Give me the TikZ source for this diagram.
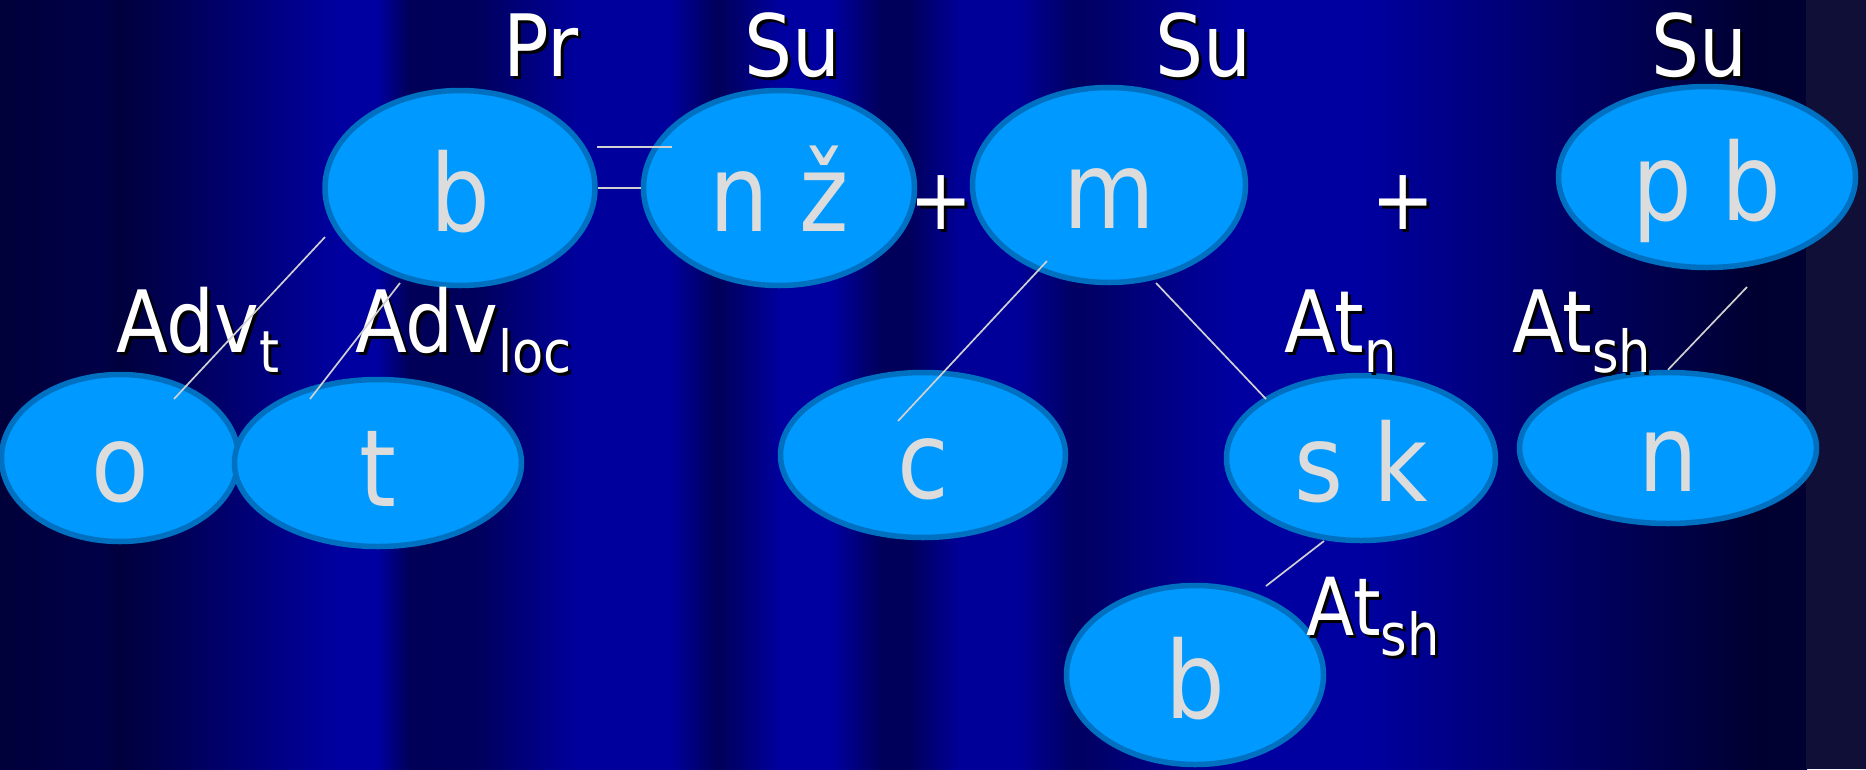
\documentclass[tikz,border=0pt]{standalone}
\usepackage{fontspec}
\setmainfont{DejaVu Sans}[FakeStretch=0.88]
\usetikzlibrary{shapes.geometric,calc}

\definecolor{bubblefill}{HTML}{0099FF}
\definecolor{bubbleedge}{HTML}{0070C0}
\definecolor{bubbletext}{HTML}{DCDCDC}
\definecolor{linkgray}{HTML}{D0D0D0}
\definecolor{sideband}{HTML}{0F0F38}

\newcommand\shadowed[1]{\makebox[0pt][l]{\kern3pt\raisebox{-3pt}{\color{black}#1}}#1}
\newcommand\lowidx[1]{\raisebox{-20pt}{\fontsize{58}{60}\selectfont #1}}

\tikzset{
  bubble/.style={ellipse, draw=bubbleedge, line width=5.5pt, fill=bubblefill,
    text=bubbletext, inner sep=0pt, text height=86pt, text depth=0pt,
    font=\fontsize{107}{110}\selectfont},
  tag/.style={text=white, inner sep=0pt, anchor=base,
    font=\fontsize{86}{90}\selectfont},
  link/.style={draw=linkgray, line width=1.7pt}
}

\begin{document}
\begin{tikzpicture}[x=1pt,y=-1pt]
  \useasboundingbox (0,0) rectangle (1866,769);
  % background stripes
  \foreach \xa/\ca/\xb/\cb in {0/58/100/72, 100/72/119/60, 119/60/337/160,
      337/160/377/160, 377/160/409/88, 409/88/476/92, 476/92/575/156,
      575/156/670/156, 670/156/717/88, 717/88/781/160, 781/160/832/160,
      832/160/880/90, 880/90/908/90, 908/90/959/152, 959/152/1019/152,
      1019/152/1075/96, 1075/96/1230/160, 1230/160/1363/160,
      1363/160/1756/48, 1756/48/1806/50} {
    \definecolor{lc}{RGB}{0,0,\ca}
    \definecolor{rc}{RGB}{0,0,\cb}
    \shade[left color=lc, right color=rc] (\xa,0) rectangle ({\xb+1},769);
  }
  \fill[sideband] (1806,0) rectangle (1866,769);

  % bubbles
  \node[bubble, minimum width=270pt, minimum height=195pt] (bPr) at (460,188) {b};
  \node[bubble, minimum width=271pt, minimum height=195pt] (nz) at (779,188) {n ž};
  \node[bubble, minimum width=273pt, minimum height=195pt] (m) at (1109,185) {m};
  \node[bubble, minimum width=297pt, minimum height=181pt] (pb) at (1707,177) {p b};
  \node[bubble, minimum width=237pt, minimum height=167pt] (o) at (120,458) {o};
  \node[bubble, minimum width=287pt, minimum height=167pt] (t) at (378,463) {t};
  \node[bubble, minimum width=285pt, minimum height=165pt] (c) at (923,455) {c};
  \node[bubble, minimum width=269pt, minimum height=165pt] (sk) at (1361,458) {s k};
  \node[bubble, minimum width=297pt, minimum height=151pt] (nn) at (1668,448) {n};
  \node[bubble, minimum width=257pt, minimum height=179pt] (bB) at (1195,675) {b};

  % labels
  \node[tag] (lPr) at (541,76) {\shadowed{Pr}};
  \node[tag] (lSuA) at (792,76) {\shadowed{Su}};
  \node[tag] (lSuB) at (1203,76) {\shadowed{Su}};
  \node[tag] (lSuC) at (1699,76) {\shadowed{Su}};
  \node[tag, anchor=base west] (lAdvt) at (116,352) {\shadowed{Adv\lowidx{t}}};
  \node[tag, anchor=base west] (lAdvloc) at (355,352) {\shadowed{Adv\lowidx{loc}}};
  \node[tag, anchor=base west] (lAtn) at (1284,352) {\shadowed{At\lowidx{n}}};
  \node[tag, anchor=base west] (lAtshA) at (1512,352) {\shadowed{At\lowidx{sh}}};
  \node[tag, anchor=base west, font=\fontsize{80}{84}\selectfont] (lAtshB) at (1306,635) {\shadowed{At\lowidx{sh}}};
  \node[tag, anchor=center] (plusA) at (941,204) {\shadowed{+}};
  \node[tag, anchor=center] (plusB) at (1403,204) {\shadowed{+}};

  % links
  \draw[link] ($(bPr)+(-135,49)$) -- ($(o)+(54,-59)$);
  \draw[link] ($(bPr)+(-60,95)$) -- ($(t)+(-68,-64)$);
  \draw[link] ($(bPr)+(137,-41)$) -- ($(nz)+(-107,-41)$);
  \draw[link] (bPr.east) -- (nz.west);
  \draw[link] ($(m)+(-62,76)$) -- ($(c)+(-25,-34)$);
  \draw[link] ($(m)+(47,98)$) -- ($(sk)+(-95,-59)$);
  \draw[link] ($(pb)+(40,110)$) -- (nn.north);
  \draw[link] ($(sk)+(-37,83)$) -- ($(bB)+(71,-89)$);
\end{tikzpicture}
\end{document}
